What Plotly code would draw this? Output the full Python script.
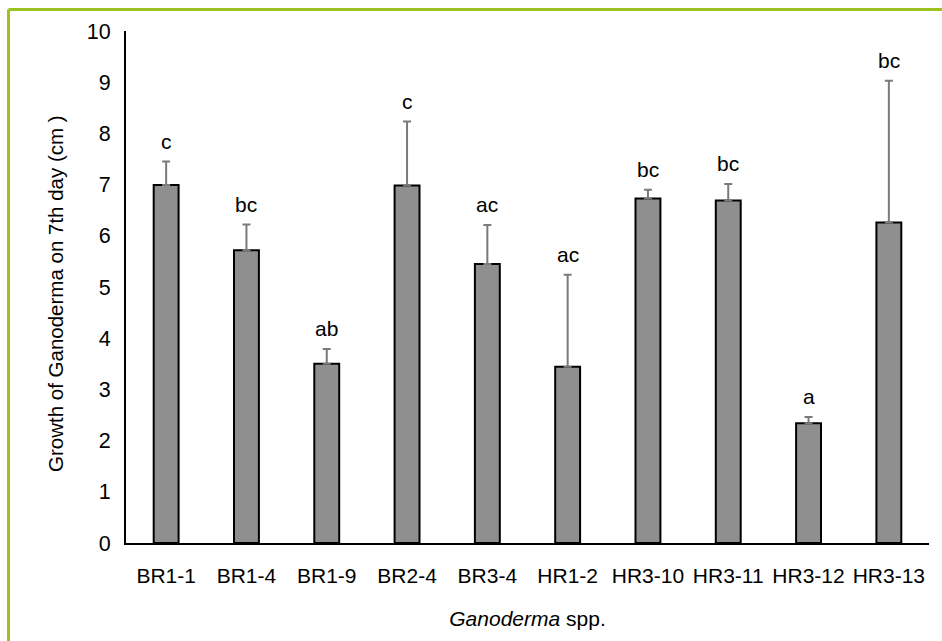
import plotly.graph_objects as go

# Mean growth (cm) of each Ganoderma isolate on day 7, with standard deviations
isolates = ["BR1-1", "BR1-4", "BR1-9", "BR2-4", "BR3-4",
            "HR1-2", "HR3-10", "HR3-11", "HR3-12", "HR3-13"]
growth = [6.99, 5.72, 3.50, 6.98, 5.45, 3.44, 6.73, 6.69, 2.34, 6.26]
sd = [0.46, 0.50, 0.29, 1.25, 0.76, 1.80, 0.17, 0.32, 0.12, 2.77]
letters = ["c", "bc", "ab", "c", "ac", "ac", "bc", "bc", "a", "bc"]
y_title = "Growth of Ganoderma on 7th day (cm )"
x_title = "<i>Ganoderma</i> spp."

W, H = 942, 641
L, R, T, B = 126, 13, 31, 98
FONT = "Liberation Sans, Arial, sans-serif"

fig = go.Figure()
fig.add_trace(go.Bar(
    x=isolates,
    y=growth,
    marker=dict(color="#8e8f8e", line=dict(color="#000000", width=2)),
    error_y=dict(type="data", array=sd, symmetric=False, arrayminus=[0] * len(sd),
                 color="#7a7a7a", thickness=2, width=4),
    showlegend=False,
))

# Significance letters above each error bar
for name, g, s, lab in zip(isolates, growth, sd, letters):
    fig.add_annotation(x=name, y=g + s, text=lab, showarrow=False,
                       yanchor="bottom", yshift=7,
                       font=dict(family=FONT, size=21, color="#000000"))

pw = W - L - R
ph = H - T - B
def px_x(p):
    return (p - L) / pw
def px_y(p):
    return (H - B - p) / ph

# Vertical y-axis title
fig.add_annotation(xref="paper", yref="paper", x=px_x(55), y=px_y(294),
                   text=y_title, textangle=-90, showarrow=False,
                   xanchor="center", yanchor="middle",
                   font=dict(family=FONT, size=20.5, color="#000000"))

# Green frame lines along the top and left edges
frame = dict(color="#9bc21f", width=3)
fig.add_shape(type="line", xref="paper", yref="paper",
              x0=px_x(8.5), x1=px_x(W + 5), y0=px_y(9.5), y1=px_y(9.5), line=frame)
fig.add_shape(type="line", xref="paper", yref="paper",
              x0=px_x(8.5), x1=px_x(8.5), y0=px_y(9.5), y1=px_y(H + 5), line=frame)

fig.update_layout(
    width=W, height=H,
    margin=dict(l=L, r=R, t=T, b=B),
    paper_bgcolor="white", plot_bgcolor="white",
    bargap=0.69,
    font=dict(family=FONT, size=21, color="#000000"),
    xaxis=dict(
        showline=True, linecolor="#000000", linewidth=2,
        ticks="", showgrid=False, zeroline=False,
        tickfont=dict(size=21), ticklabelstandoff=13,
        title=dict(text=x_title, font=dict(size=21), standoff=25),
    ),
    yaxis=dict(
        range=[0, 10], dtick=1,
        showline=True, linecolor="#000000", linewidth=2,
        ticks="", showgrid=False, zeroline=False,
        tickfont=dict(size=21.5), ticklabelstandoff=9,
    ),
)

fig.write_html("out.html")
